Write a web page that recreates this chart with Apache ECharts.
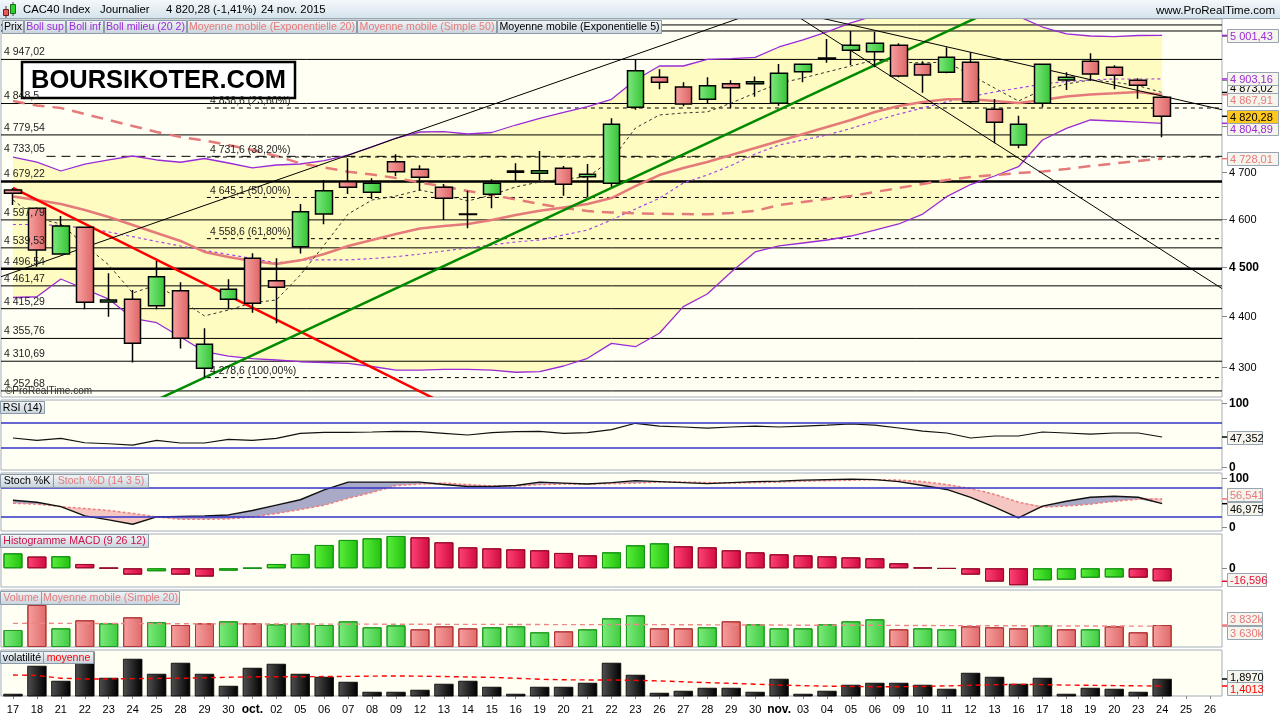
<!DOCTYPE html>
<html><head><meta charset="utf-8">
<script src="https://cdn.jsdelivr.net/npm/echarts@6/dist/echarts.min.js"></script>
<style>html,body{margin:0;padding:0;background:#fff;}#c{width:1280px;height:720px;}</style>
</head><body><div id="c"></div>
<script>
// ---------------- DATA ----------------
const categories = ['17','18','21','22','23','24','25','28','29','30','oct.','02','05','06','07','08','09','12','13','14','15','16','19','20','21','22','23','26','27','28','29','30','nov.','03','04','05','06','09','10','11','12','13','16','17','18','19','20','23','24','25','26'];
const openPrices  = [4660.9,4622.2,4526.8,4582.3,4428.5,4434.3,4421.3,4451.7,4296.8,4434.3,4518.0,4472.0,4541.9,4610.0,4678.6,4656.1,4721.5,4705.1,4666.7,4610.0,4651.8,4699.0,4696.6,4707.3,4689.3,4675.2,4840.1,4906.9,4885.0,4857.8,4892.6,4892.6,4849.0,4919.4,4948.0,4967.6,4964.4,4979.0,4936.1,4918.1,4940.5,4835.7,4757.6,4849.0,4900.8,4943.0,4929.3,4900.1,4862.3];
const closePrices = [4653.9,4535.1,4585.0,4428.2,4432.8,4346.0,4480.0,4356.0,4344.0,4454.5,4426.1,4458.5,4615.0,4659.4,4666.7,4675.2,4700.0,4688.0,4643.3,4609.0,4675.2,4701.5,4702.1,4673.0,4694.4,4802.7,4921.7,4895.7,4847.4,4888.1,4883.7,4897.0,4915.8,4936.1,4950.0,4979.0,4983.6,4910.0,4912.0,4951.8,4852.5,4807.1,4802.7,4936.1,4906.9,4914.2,4911.3,4888.9,4820.28];
const lowPrices   = [4629.1,4500.7,4525.0,4414.0,4399.0,4308.0,4414.0,4336.0,4278.6,4414.0,4407.0,4386.0,4528.0,4588.5,4652.4,4641.7,4690.8,4659.4,4597.6,4580.2,4622.2,4680.7,4682.2,4648.7,4645.3,4668.0,4835.0,4880.0,4842.5,4849.0,4837.8,4863.6,4843.7,4895.7,4939.6,4934.4,4929.3,4907.0,4872.5,4915.8,4849.0,4761.3,4750.5,4840.1,4878.5,4899.3,4880.0,4859.3,4774.3];
const highPrices  = [4664.6,4624.6,4606.0,4583.0,4487.0,4453.0,4512.4,4468.7,4376.0,4475.0,4528.3,4518.0,4631.0,4682.2,4728.8,4685.9,4737.5,4713.7,4673.7,4659.4,4683.8,4718.0,4744.6,4712.2,4716.6,4815.9,4947.02,4924.8,4895.7,4907.0,4900.0,4908.8,4936.7,4937.0,4993.3,5011.6,5010.0,4983.6,4943.0,4974.5,4963.0,4858.5,4821.6,4937.0,4918.1,4960.8,4933.8,4904.6,4863.0];
const bollUpper  = [4731.6,4720.8,4701.5,4716.5,4725.2,4733.8,4725.2,4720.3,4728.4,4718.7,4708.0,4714.4,4716.5,4724.0,4735.9,4753.3,4772.8,4785.9,4786.6,4781.5,4784.8,4801.2,4815.9,4828.7,4841.4,4857.8,4900.8,4932.2,4932.2,4947.3,4949.0,4951.8,4975.2,4991.1,5009.4,5030,5047,5061,5067,5062,5062,5055,5045,5020.7,5004.8,5000.2,4998.6,5001.3,5001.43];
const bollMiddle = [4588.1,4588.1,4585.9,4580.8,4572.5,4562.7,4552.7,4543.4,4534.1,4525.8,4517.5,4508.3,4514.5,4514.5,4514.5,4517.5,4521.2,4526.8,4533.0,4539.2,4545.4,4551.7,4555.8,4566.2,4576.6,4597.6,4620.7,4643.3,4675.8,4692.9,4713.3,4738.1,4757.6,4768.5,4779.4,4793.6,4810.0,4825.3,4838.6,4852.5,4864.0,4874.0,4882.9,4891.9,4897.5,4900.8,4903.0,4903.0,4903.16];
const bollLower  = [4437.8,4439.4,4475.5,4455.1,4434.7,4396.0,4387.1,4358.5,4329.4,4320.9,4316.0,4313.1,4309.7,4308.2,4306.6,4300.3,4293.4,4293.4,4294.7,4294.8,4293.4,4289.1,4290.1,4301.3,4316.4,4346.0,4339.3,4366.0,4419.3,4445.0,4489.8,4531.0,4543.4,4549.6,4555.8,4564.1,4576.6,4589.2,4610.0,4646.7,4672.6,4690.8,4710.7,4768.5,4794.0,4812.2,4810.0,4807.7,4804.89];
const ema20 = [4647.1,4639.7,4631.2,4618.6,4603.9,4587.1,4570.4,4553.8,4531.0,4520.7,4512.4,4506.2,4513.7,4526.8,4543.4,4555.8,4568.3,4579.8,4585.0,4589.2,4597.6,4608.1,4617.1,4623.9,4631.2,4643.9,4669.4,4692.9,4707.9,4720.8,4736.0,4751.1,4766.3,4781.5,4796.8,4812.2,4829.8,4843.0,4851.8,4857.8,4857.8,4854.0,4849.6,4856.2,4864.0,4868.4,4871.1,4874.0,4867.91];
const sma50 = [4854.1,4844.1,4838.6,4825.3,4812.2,4799.0,4785.9,4775.0,4767.4,4757.6,4746.8,4733.8,4718.0,4709.0,4700.0,4694.0,4686.5,4676.9,4668.4,4658.8,4650.3,4640.8,4631.2,4622.8,4616.5,4613.3,4611.7,4610.5,4610.0,4609.4,4612.3,4616.5,4629.1,4635.5,4641.8,4648.2,4656.7,4665.2,4673.7,4682.2,4688.6,4692.9,4697.2,4700.4,4705.8,4712.2,4717.6,4723.0,4728.01];
const ema5 = [4639.7,4601.8,4589.2,4545.4,4504.2,4447.0,4463.3,4432.8,4400.6,4412.6,4427.1,4432.8,4483.6,4545.4,4610.2,4639.7,4648.2,4660.9,4650.3,4637.7,4650.3,4667.4,4678.1,4684.5,4688.6,4725.2,4794.6,4823.2,4827.6,4830.0,4849.6,4871.9,4893.4,4905.3,4918.8,4932.2,4945.7,4941.2,4939.0,4941.2,4912.0,4882.9,4854.1,4878.5,4891.9,4900.8,4896.0,4888.0,4873.02];
const rsi14 = [45.8,42.1,45.2,38.4,36.8,34.8,42.1,38.0,38.0,43.7,42.1,45.2,53.1,54.7,54.7,55.2,56.2,55.7,53.1,50.5,54.2,55.7,56.2,53.1,54.2,58.8,68.8,64.5,63.0,61.4,63.0,64.5,63.0,64.5,66.0,67.7,66.0,61.4,56.7,53.6,45.8,48.9,48.9,55.2,53.6,52.0,53.6,53.6,47.352];
const stochK = [54,50,41,22,14,5,20,21,22,24,33,44,55,75,91,91,91,91,86,82,82,84,91,89,87,90,94,92,90,88,90,92,93,95,96,97,96,92,84,76,60,40,18,42,52,60,62,60,46.975];
const stochD = [48,46,41,37,33,27,20,15,15,16,20,27,35,44,58,70,84,87,89,86,83,83,86,87,87,88,89,91,91,90,89,90,91,93,94,95,96,95,92,86,78,66,50,40,42,46,52,56,56.541];
const macdHist = [19.1,15.0,15.4,5.5,0.4,-8.1,-3.8,-8.1,-10.6,-3.0,0.3,5.5,18.3,29.8,36.2,38.3,41.3,39.6,33.2,26.8,25.5,24.3,23.0,19.6,16.6,20.4,29.4,31.9,28.1,26.8,23.0,20.4,17.9,16.6,15.3,14.0,12.8,6.4,0.9,-0.4,-8.1,-17.0,-21.7,-15.3,-14.5,-12.1,-11.7,-12.0,-16.596];
const volumeK = [2960,7320,3250,4650,4120,5170,4300,3830,4120,4470,4120,3950,4120,3830,4470,3430,3770,3080,3600,3250,3430,3600,2560,2730,3080,5000,5520,3250,3250,3430,4470,3950,3250,3250,3950,4470,4820,3080,3250,3080,3600,3430,3250,3770,3080,3080,3600,2560,3832];
const volumeMA20 = [4120,4130,4120,4100,4090,4080,4060,4050,4040,4030,4020,4010,4000,3990,3990,3980,3970,3960,3950,3950,3940,3930,3910,3900,3890,3900,3920,3900,3880,3860,3850,3840,3820,3800,3790,3780,3780,3760,3740,3720,3710,3700,3690,3680,3670,3660,3650,3640,3630];
const volatility = [0.835,2.817,1.755,3.85,1.967,3.313,2.25,3.03,2.25,1.401,2.675,2.959,2.25,2.038,1.684,0.976,0.976,1.118,1.543,1.755,1.33,0.835,1.33,1.33,1.613,3.03,2.18,0.905,1.047,1.259,1.259,0.976,1.897,0.835,1.047,1.472,1.613,1.613,1.472,1.189,2.32,2.038,1.543,1.967,0.835,1.259,1.189,0.976,1.897];
const volatilityMA = [2.18,2.15,1.95,1.9,1.9,1.92,1.94,1.95,1.98,2.02,2.05,2.06,2.06,2.07,2.08,2.1,2.11,2.1,2.07,2.04,2.01,1.95,1.88,1.84,1.83,1.83,1.8,1.76,1.7,1.64,1.59,1.53,1.47,1.42,1.39,1.37,1.35,1.35,1.37,1.41,1.45,1.49,1.52,1.5,1.47,1.45,1.43,1.41,1.4013];
// horizontal support / resistance levels
const levelValues = [5025.4,5011.6,4947.02,4848.5,4779.54,4733.05,4679.22,4597.79,4539.53,4496.54,4461.47,4415.29,4355.76,4310.69,4252.68];
const levelLabels = ['','','4 947,02','4 848,5','4 779,54','4 733,05','4 679,22','4 597,79','4 539,53','4 496,54','4 461,47','4 415,29','4 355,76','4 310,69','4 252,68'];
const levelKinds  = ['thin','thin','thin','thin','thin','dash','thick','thin','thin','thick','thin','thin','thin','thin','thin'];
const levelStart  = [-1,-1,-1,-1,-1,1.4,-1,-1,-1,-1,-1,-1,-1,-1,-1];
// Fibonacci retracement
const fibValues = [4838.6,4731.6,4645.1,4558.6,4278.6];
const fibLabels = ['4 838,6 (23,60%)','4 731,6 (38,20%)','4 645,1 (50,00%)','4 558,6 (61,80%)','4 278,6 (100,00%)'];
const fibStartIdx = 8.1;
// trend lines: [index1, price1, index2, price2]
const trendLines = [[0,4665.2,16,4274.9],[8,4278.6,33,4859.4],[0,4488.7,28,4996],[38,4863.6,46,4598.6],[36,5013.1,48,4865.1]];
const trendColors = ['#FF0000','#008A00','#000000','#000000','#000000'];
const trendWidths = [2.5,2.5,1,1,1];
const trendExtendLeft = [false,true,true,true,true];
// axis tick labels
const priceTicks = [4300,4400,4500,4600,4700,4800,4900,5000];
const priceTickLabels = ['4 300','4 400','4 500','4 600','4 700','4 800','4 900','5 000'];

// ---------------- CHART ----------------
const FONT = '"Liberation Sans", Arial, sans-serif';
const chart = echarts.init(document.getElementById('c'), null, {renderer:'canvas', width:1280, height:720});
const N = closePrices.length;
const PURPLE = '#9A2BD6', SALMON = '#E57A7A';

const gridDefs = [[19,378],[400,70],[473,58],[534,53],[590,57],[650,46]];
const grids = gridDefs.map(g => ({show:true, left:1, top:g[0], width:1221, height:g[1], backgroundColor:'#FFFFF3', borderColor:'#A3ADB8', borderWidth:1}));
const xAxes = gridDefs.map((g,i) => ({
  type:'category', gridIndex:i, data:categories, boundaryGap:true, show: i===5,
  axisLine:{show:false}, splitLine:{show:false},
  axisTick:{show:true, alignWithLabel:true, interval:0, length:3, lineStyle:{color:'#8A8A8A'}},
  axisLabel:{interval:0, fontSize:11, color:'#000', fontFamily:FONT, margin:8,
    formatter: v => (v==='oct.'||v==='nov.') ? '{b|'+v+'}' : v,
    rich:{b:{fontWeight:'bold', fontSize:12, fontFamily:FONT, color:'#000'}}}
}));
const hid = {axisLine:{show:false}, axisTick:{show:false}, axisLabel:{show:false}, splitLine:{show:false}};
const yAxes = [
  Object.assign({type:'log', logBase:10, gridIndex:0, min:4240.9, max:5039.1}, hid),
  Object.assign({type:'value', gridIndex:1, min:-4.2, max:105.2}, hid),
  Object.assign({type:'value', gridIndex:2, min:-8.8, max:109.6}, hid),
  Object.assign({type:'value', gridIndex:3, min:-23.9, max:43.8}, hid),
  Object.assign({type:'value', gridIndex:4, min:0, max:9930}, hid),
  Object.assign({type:'value', gridIndex:5, min:0.693, max:3.95}, hid)
];

const grad = (c1,c2) => ({type:'linear', x:0, y:0, x2:1, y2:0, colorStops:[{offset:0,color:c1},{offset:1,color:c2}]});
const GREEN_BODY = grad('#7FEA7F','#34C234'), RED_BODY = grad('#F7A3A3','#DE6363');

const candleData = openPrices.map((o,i) => [o, closePrices[i], lowPrices[i], highPrices[i]]);
const volumeData = volumeK.map((v,i) => {
  const up = i===0 ? true : closePrices[i] >= closePrices[i-1];
  return {value:v, itemStyle:{color: up ? grad('#7EEB7E','#3FCB3F') : grad('#F6A0A0','#E06A6A'), borderColor: up ? '#1E9A1E' : '#B23434', borderWidth:1}};
});
const macdData = macdHist.map((v,i) => {
  const up = i===0 ? true : v >= macdHist[i-1];
  return {value:v, itemStyle:{color: up ? grad('#5AF03A','#22C010') : grad('#FF4477','#D00A40'), borderColor: up ? '#149414' : '#9A0A2A', borderWidth:1}};
});
const stochBase = stochK.map((k,i) => Math.min(k, stochD[i]));
const stochUp = stochK.map((k,i) => Math.max(k - stochD[i], 0));
const stochDn = stochK.map((k,i) => Math.max(stochD[i] - k, 0));

function lineS(data, color, width, dash, xi, z, extra){
  return Object.assign({type:'line', xAxisIndex:xi, yAxisIndex:xi, data, symbol:'none', silent:true, z:z||3,
    lineStyle:{color, width, type: dash || 'solid'}, emphasis:{disabled:true}}, extra||{});
}
const textStyle = (x,y,text) => ({x, y, text, fill:'#222', font:'10.5px '+FONT, align:'left', verticalAlign:'bottom', textAlign:'left', textVerticalAlign:'bottom'});

const series = [
  // Bollinger band fill
  {type:'line', xAxisIndex:0, yAxisIndex:0, data:bollLower, stack:'band', symbol:'none', silent:true, z:1, lineStyle:{opacity:0}},
  {type:'line', xAxisIndex:0, yAxisIndex:0, data:bollUpper.map((u,i)=>u-bollLower[i]), stack:'band', symbol:'none', silent:true, z:1, lineStyle:{opacity:0}, areaStyle:{color:'#FFFCC2', opacity:1}},
  // horizontal levels (lines)
  {type:'custom', xAxisIndex:0, yAxisIndex:0, clip:true, silent:true, z:2,
    data: levelValues.map(v => [0, v]),
    renderItem(params, api){
      const i = params.dataIndex, cs = params.coordSys, v = api.value(1);
      const a = api.coord([0, v]), b = api.coord([1, v]);
      const x0 = levelStart[i] < 0 ? cs.x : a[0] + (b[0]-a[0])*levelStart[i];
      const k = levelKinds[i];
      return {type:'line', shape:{x1:x0, y1:a[1], x2:cs.x+cs.width, y2:a[1]},
        style:{stroke:'#000', lineWidth: k==='thick'?2.5:1, lineDash: k==='dash'?[9,6]:null}};
    }},
  // horizontal level labels (drawn above candles)
  {type:'custom', xAxisIndex:0, yAxisIndex:0, clip:true, silent:true, z:97,
    data: levelValues.map(v => [0, v]),
    renderItem(params, api){
      const i = params.dataIndex, cs = params.coordSys;
      if (!levelLabels[i]) return null;
      const a = api.coord([0, api.value(1)]);
      return {type:'text', style:textStyle(cs.x+3, a[1]-1.5, levelLabels[i])};
    }},
  // fibonacci lines
  {type:'custom', xAxisIndex:0, yAxisIndex:0, clip:true, silent:true, z:2,
    data: fibValues.map(v => [0, v]),
    renderItem(params, api){
      const cs = params.coordSys, v = api.value(1);
      const a = api.coord([0, v]), b = api.coord([1, v]);
      const x0 = a[0] + (b[0]-a[0])*fibStartIdx;
      return {type:'line', shape:{x1:x0, y1:a[1], x2:cs.x+cs.width, y2:a[1]}, style:{stroke:'#000', lineWidth:1, lineDash:[4,4]}};
    }},
  // fibonacci labels
  {type:'custom', xAxisIndex:0, yAxisIndex:0, clip:true, silent:true, z:97,
    data: fibValues.map(v => [0, v]),
    renderItem(params, api){
      const i = params.dataIndex, v = api.value(1);
      const a = api.coord([0, v]), b = api.coord([1, v]);
      const x0 = a[0] + (b[0]-a[0])*fibStartIdx;
      return {type:'text', style:textStyle(x0+3, a[1]-1, fibLabels[i])};
    }},
  lineS(bollUpper, PURPLE, 1.3, null, 0, 3),
  lineS(bollLower, PURPLE, 1.3, null, 0, 3),
  lineS(bollMiddle, '#A347E6', 1.2, [3,3], 0, 3),
  lineS(sma50, SALMON, 2.5, [12,8], 0, 3),
  lineS(ema20, SALMON, 2.5, null, 0, 3),
  lineS(ema5, '#333', 1, [3,3], 0, 3),
  // trend lines
  {type:'custom', xAxisIndex:0, yAxisIndex:0, clip:true, silent:true, z:4,
    data: trendLines, encode:{x:[0,2], y:[1,3]},
    renderItem(params, api){
      const i = params.dataIndex, cs = params.coordSys;
      const pA = api.coord([api.value(0), api.value(1)]), pB = api.coord([api.value(2), api.value(3)]);
      const s = (pB[1]-pA[1])/(pB[0]-pA[0]);
      const xL = trendExtendLeft[i] ? cs.x : pA[0], xR = cs.x + cs.width;
      return {type:'line', shape:{x1:xL, y1:pA[1]+s*(xL-pA[0]), x2:xR, y2:pA[1]+s*(xR-pA[0])},
        style:{stroke:trendColors[i], lineWidth:trendWidths[i]}};
    }},
  // candles
  {type:'candlestick', xAxisIndex:0, yAxisIndex:0, data:candleData, barWidth:17, silent:true, z:5,
    itemStyle:{color:GREEN_BODY, color0:RED_BODY, borderColor:'#000', borderColor0:'#000', borderWidth:1.5}},
  // RSI
  lineS(rsi14, '#111', 1.2, null, 1, 3, {markLine:{silent:true, symbol:'none', label:{show:false}, lineStyle:{color:'#3535C8', width:1.5, type:'solid'}, data:[{yAxis:70},{yAxis:30}]}}),
  // Stochastic fills
  {type:'line', xAxisIndex:2, yAxisIndex:2, data:stochBase, stack:'st', symbol:'none', silent:true, z:2, lineStyle:{opacity:0}},
  {type:'line', xAxisIndex:2, yAxisIndex:2, data:stochUp, stack:'st', symbol:'none', silent:true, z:2, lineStyle:{opacity:0}, areaStyle:{color:'#A9A9C8', opacity:1}},
  {type:'line', xAxisIndex:2, yAxisIndex:2, data:stochDn, stack:'st', symbol:'none', silent:true, z:2, lineStyle:{opacity:0}, areaStyle:{color:'#F5C6C2', opacity:1}},
  lineS(stochD, '#EE8080', 1.5, [3,2], 2, 3, {markLine:{silent:true, symbol:'none', label:{show:false}, lineStyle:{color:'#3535C8', width:1.5, type:'solid'}, data:[{yAxis:80},{yAxis:20}]}}),
  lineS(stochK, '#111', 1.4, null, 2, 4),
  // MACD histogram
  {type:'bar', xAxisIndex:3, yAxisIndex:3, data:macdData, barWidth:19, silent:true, z:3},
  // Volume
  {type:'bar', xAxisIndex:4, yAxisIndex:4, data:volumeData, barWidth:19, silent:true, z:3},
  lineS(volumeMA20, '#EE8888', 1.4, [5,4], 4, 4),
  // Volatility
  {type:'bar', xAxisIndex:5, yAxisIndex:5, data:volatility, barWidth:19, silent:true, z:3,
    itemStyle:{color:grad('#505050','#000000'), borderColor:'#000', borderWidth:0.5}},
  lineS(volatilityMA, '#FF0000', 1.4, [5,4], 5, 4)
];

chart.setOption({animation:false, backgroundColor:'#FFFFFF', grid:grids, xAxis:xAxes, yAxis:yAxes, series});

// ---------------- OVERLAY TEXT (positions via the chart's own scales) ----------------
const G = [];
const Z = 100;
function txt(x,y,text,color,font,align,valign,z){ return {type:'text', z:z||Z, silent:true, style:{x,y,text,fill:color,font:font||('11px '+FONT),align:align||'left',verticalAlign:valign||'middle',textAlign:align||'left',textVerticalAlign:valign||'middle'}}; }
function rect(x,y,w,h,fill,stroke,lw,z){ return {type:'rect', z:z||Z, silent:true, shape:{x,y,width:w,height:h}, style:{fill:fill, stroke:stroke||null, lineWidth:lw||1}}; }
function seg(x1,y1,x2,y2,color,lw,z){ return {type:'line', z:z||Z, silent:true, shape:{x1,y1,x2,y2}, style:{stroke:color, lineWidth:lw||1}}; }
const tagFill = {type:'linear', x:0, y:0, x2:0, y2:1, colorStops:[{offset:0,color:'#F4F7F9'},{offset:1,color:'#C6D2DB'}]};
function tag(x,y,w,h,text,color){ G.push(rect(x+0.5,y+0.5,w,h,tagFill,'#8C9BA8',1,110)); G.push(txt(x+w/2+0.5,y+h/2+1,text,color,'10.6px '+FONT,'center','middle',111)); }
function vbox(x,yc,w,text,color,bg,z){ G.push(rect(x+0.5,Math.round(yc-6.5)+0.5,w,13,bg||'#F5F5EE','#98A4B0',1,z||105)); G.push(txt(x+3,Math.round(yc-6.5)+7.5,text,color,'11px '+FONT,'left','middle',(z||105)+1)); }

// title bar
G.push(rect(0,0,1280,18,{type:'linear',x:0,y:0,x2:0,y2:1,colorStops:[{offset:0,color:'#F3F8FB'},{offset:1,color:'#D5E3EC'}]},null,1,90));
G.push(seg(0,18.5,1280,18.5,'#9AA8B4',1,91));
G.push(seg(6,6,6,18,'#444',1,92)); G.push(rect(3.5,9.5,5,6,'#E85A5A','#6A2020',1,93));
G.push(seg(13,2,13,16,'#444',1,92)); G.push(rect(10.5,4.5,5,9,'#2ED22E','#1A6A1A',1,93));
const TF = '11.3px '+FONT;
G.push(txt(23,9.5,'CAC40 Index','#000',TF));
G.push(txt(100,9.5,'Journalier','#000',TF));
G.push(txt(166,9.5,'4 820,28 (-1,41%)','#000',TF));
G.push(txt(261,9.5,'24 nov. 2015','#000',TF));
G.push(txt(1275,11,'www.ProRealTime.com','#000','11.5px '+FONT,'right'));

// legend tags
tag(2,20,21,13,'Prix','#000');
tag(24,20,41,13,'Boll sup',PURPLE);
tag(66,20,37,13,'Boll inf',PURPLE);
tag(104,20,82,13,'Boll milieu (20 2)',PURPLE);
tag(187,20,169,13,'Moyenne mobile (Exponentielle 20)',SALMON);
tag(357,20,139,13,'Moyenne mobile (Simple 50)',SALMON);
tag(497,20,164,13,'Moyenne mobile (Exponentielle 5)','#000');
tag(0,401,44,12,'RSI (14)','#000');
tag(0,474,53,13,'Stoch %K','#000');
tag(53,474,95,13,'Stoch %D (14 3 5)',SALMON);
tag(0,534,148,13,'Histogramme MACD (9 26 12)','#D0104A');
tag(0,591,41,13,'Volume',SALMON);
tag(41,591,138,13,'Moyenne mobile (Simple 20)',SALMON);
tag(0,651,43,12,'volatilité','#000');
tag(43,651,50,12,'moyenne','#FF0000');

// BOURSIKOTER box + watermark
G.push(rect(22,62,273,36,'#FFFFFF','#000',2.5,95));
G.push(txt(158.5,80.5,'BOURSIKOTER.COM','#000','bold 25.5px '+FONT,'center','middle',96));
G.push(txt(5,391,'©ProRealTime.com','#333','10px '+FONT,'left','middle',95));

// price axis ticks
const py = v => chart.convertToPixel({yAxisIndex:0}, v);
priceTicks.forEach((v,i) => {
  const y = Math.round(py(v)) + 0.5;
  G.push(seg(1222,y,1227,y,'#888',1));
  G.push(txt(1229,y,priceTickLabels[i],'#000', v===4500 ? 'bold 12px '+FONT : '11px '+FONT));
});
// price value boxes with overlap relaxation
const pBoxes = [
  {v:bollUpper[N-1], t:'5 001,43', c:PURPLE, z:107},
  {v:bollMiddle[N-1], t:'4 903,16', c:PURPLE, z:109},
  {v:ema5[N-1], t:'4 873,02', c:'#000', z:105},
  {v:ema20[N-1], t:'4 867,91', c:SALMON, z:111},
  {v:closePrices[N-1], t:'4 820,28', c:'#000', bg:'#FFC81E', fixed:true, z:117},
  {v:bollLower[N-1], t:'4 804,89', c:PURPLE, z:113},
  {v:sma50[N-1], t:'4 728,01', c:SALMON, z:115}
];
pBoxes.forEach(b => { b.y0 = py(b.v); b.y = b.y0; });
for (let j=0;j<pBoxes.length-1;j++){
  const a = pBoxes[j], b = pBoxes[j+1], gap = 12.5;
  if (b.y - a.y < gap){
    if (b.fixed) a.y = b.y - gap; else if (a.fixed) b.y = a.y + gap;
    else { const m=(a.y+b.y)/2; a.y = m-gap/2; b.y = m+gap/2; }
  }
}
pBoxes.forEach(b => {
  G.push(seg(1222,b.y0,1227,b.y0,b.c,1.5,104));
  vbox(1227,b.y,51,b.t,b.c,b.bg,b.z);
});

// indicator axis labels
function axisLab(axisIdx, v, label){
  const y = Math.round(chart.convertToPixel({yAxisIndex:axisIdx}, v)) + 0.5;
  G.push(seg(1222,y,1227,y,'#888',1));
  G.push(txt(1229,y,label,'#000','bold 12px '+FONT));
}
axisLab(1,100,'100'); axisLab(1,0,'0');
axisLab(2,100,'100'); axisLab(2,0,'0');
axisLab(3,0,'0');
function indBoxes(axisIdx, items, w, gap, yMax){
  items.forEach(it => { it.y0 = chart.convertToPixel({yAxisIndex:axisIdx}, it.v); it.y = it.y0; });
  items.sort((a,b)=>a.y-b.y);
  for (let j=0;j<items.length-1;j++){
    const a=items[j], b=items[j+1];
    if (b.y-a.y<gap){ const m=(a.y+b.y)/2; a.y=m-gap/2; b.y=m+gap/2; }
  }
  items.forEach(it => {
    if (yMax && it.y > yMax) it.y = yMax;
    G.push(seg(1222,it.y0,1227,it.y0,it.c,1.5,104));
    vbox(1227,it.y,w,it.t,it.c,null,105);
  });
}
indBoxes(1,[{v:rsi14[N-1], t:'47,352', c:'#000'}],35,13);
indBoxes(2,[{v:stochD[N-1], t:'56,541', c:SALMON},{v:stochK[N-1], t:'46,975', c:'#000'}],35,14.5);
indBoxes(3,[{v:macdHist[N-1], t:'-16,596', c:'#E0103A'}],39,13,579.5);
indBoxes(4,[{v:volumeK[N-1], t:'3 832k', c:SALMON},{v:volumeMA20[N-1], t:'3 630k', c:SALMON}],35,14.5);
indBoxes(5,[{v:volatility[N-1], t:'1,8970', c:'#000'},{v:volatilityMA[N-1], t:'1,4013', c:'#FF0000'}],35,12.8);

chart.setOption({graphic: G});
</script></body></html>
